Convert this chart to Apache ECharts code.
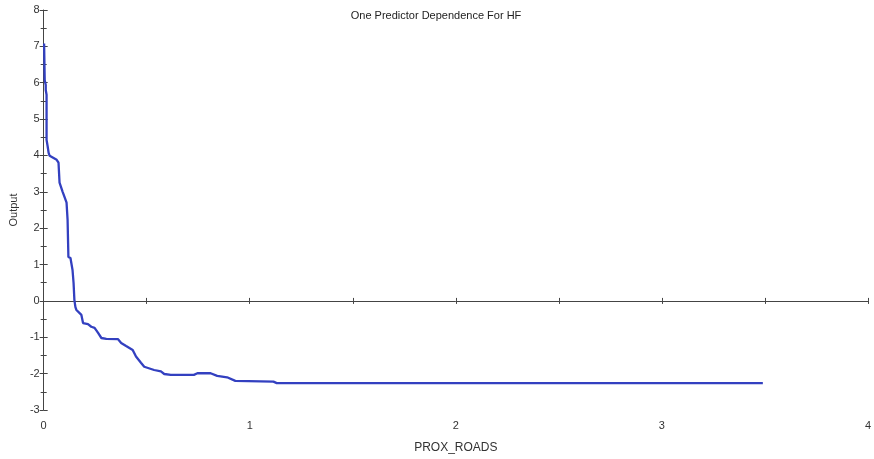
<!DOCTYPE html>
<html>
<head>
<meta charset="utf-8">
<script src="https://cdn.jsdelivr.net/npm/echarts@6/dist/echarts.min.js"></script>
<style>
html,body{margin:0;padding:0;background:#fff;}
#chart{width:874px;height:459px;}
</style>
</head>
<body>
<div id="chart"></div>
<script>
const titleText = 'One Predictor Dependence For HF';
const xName = 'PROX_ROADS';
const yName = 'Output';
const xTicks = [0, 1, 2, 3, 4];
const yTicks = [-3, -2, -1, 0, 1, 2, 3, 4, 5, 6, 7, 8];

const xs = [0.002, 0.005, 0.010, 0.010, 0.014, 0.014, 0.019, 0.024, 0.029, 0.063, 0.072, 0.077, 0.092, 0.101, 0.111, 0.116, 0.120, 0.130, 0.140, 0.145, 0.149, 0.154,
  0.159, 0.183, 0.191, 0.215, 0.231, 0.247, 0.264, 0.280, 0.304, 0.360, 0.376, 0.400, 0.432, 0.448, 0.472, 0.488, 0.536, 0.569, 0.585, 0.617, 0.729, 0.746, 0.810, 0.842, 0.890, 0.930, 1.115, 1.131, 3.490];
const ys = [7.08, 6.07, 5.94, 5.80, 5.67, 4.43, 4.26, 4.07, 3.99, 3.88, 3.80, 3.25, 3.00, 2.86, 2.70, 2.23, 1.21, 1.18, 0.85, 0.50, 0.03, -0.17,
  -0.25, -0.385, -0.61, -0.64, -0.71, -0.74, -0.88, -1.02, -1.045, -1.05, -1.155, -1.24, -1.35, -1.53, -1.70, -1.81, -1.90, -1.94, -2.01, -2.035, -2.035, -1.99, -1.99, -2.06, -2.10, -2.20, -2.22, -2.26, -2.26];

const data = xs.map((x, i) => [x, ys[i]]);
const axisColor = '#444';
const font = 'Liberation Sans, Arial, sans-serif';

const chart = echarts.init(document.getElementById('chart'), null, {renderer: 'canvas'});
chart.setOption({
  animation: false,
  backgroundColor: '#fff',
  title: {
    text: titleText,
    left: 431, top: 5, textAlign: 'center',
    textStyle: {fontFamily: font, fontSize: 11, fontWeight: 'normal', color: '#222'}
  },
  grid: {left: 39, right: 0, top: 10, bottom: 49, containLabel: false},
  xAxis: [
    {
      type: 'value', min: xTicks[0], max: xTicks[xTicks.length - 1], interval: 0.5,
      position: 'bottom',
      axisLine: {show: true, onZero: true, lineStyle: {color: axisColor, width: 1}},
      axisTick: {show: true, inside: false, length: 3, lineStyle: {color: axisColor}},
      axisLabel: {show: false}, splitLine: {show: false}
    },
    {
      type: 'value', min: xTicks[0], max: xTicks[xTicks.length - 1], interval: 0.5,
      position: 'bottom',
      axisLine: {show: false, onZero: true},
      axisTick: {show: true, inside: true, length: 3, lineStyle: {color: axisColor}},
      axisLabel: {show: false}, splitLine: {show: false}
    },
    {
      type: 'value', min: xTicks[0], max: xTicks[xTicks.length - 1], interval: 1,
      position: 'bottom',
      axisLine: {show: false, onZero: false},
      axisTick: {show: false},
      axisLabel: {show: true, margin: 10, fontFamily: font, fontSize: 11, color: '#333'},
      splitLine: {show: false},
      name: xName, nameLocation: 'middle', nameGap: 32,
      nameTextStyle: {fontFamily: font, fontSize: 12, color: '#333'}
    }
  ],
  yAxis: [
    {
      type: 'value', min: yTicks[0], max: yTicks[yTicks.length - 1], interval: 1,
      position: 'left',
      axisLine: {show: true, onZero: false, lineStyle: {color: axisColor, width: 1}},
      axisTick: {show: true, inside: false, length: 4, lineStyle: {color: axisColor}},
      minorTick: {show: true, splitNumber: 2, length: 3, lineStyle: {color: axisColor}},
      axisLabel: {show: true, margin: 4, fontFamily: font, fontSize: 11, color: '#333'},
      splitLine: {show: false},
      name: yName, nameLocation: 'middle', nameGap: 24, nameRotate: 90,
      nameTextStyle: {fontFamily: font, fontSize: 11, color: '#333'}
    },
    {
      type: 'value', min: yTicks[0], max: yTicks[yTicks.length - 1], interval: 1,
      position: 'left',
      axisLine: {show: false, onZero: false},
      axisTick: {show: true, inside: true, length: 4, lineStyle: {color: axisColor}},
      minorTick: {show: true, splitNumber: 2, length: 3, lineStyle: {color: axisColor}},
      axisLabel: {show: false}, splitLine: {show: false}
    }
  ],
  series: [{
    type: 'line',
    xAxisIndex: 0, yAxisIndex: 0,
    data: data,
    showSymbol: false,
    smooth: false,
    lineStyle: {color: '#3340c0', width: 2.3},
    z: 5
  }]
});
</script>
</body>
</html>
